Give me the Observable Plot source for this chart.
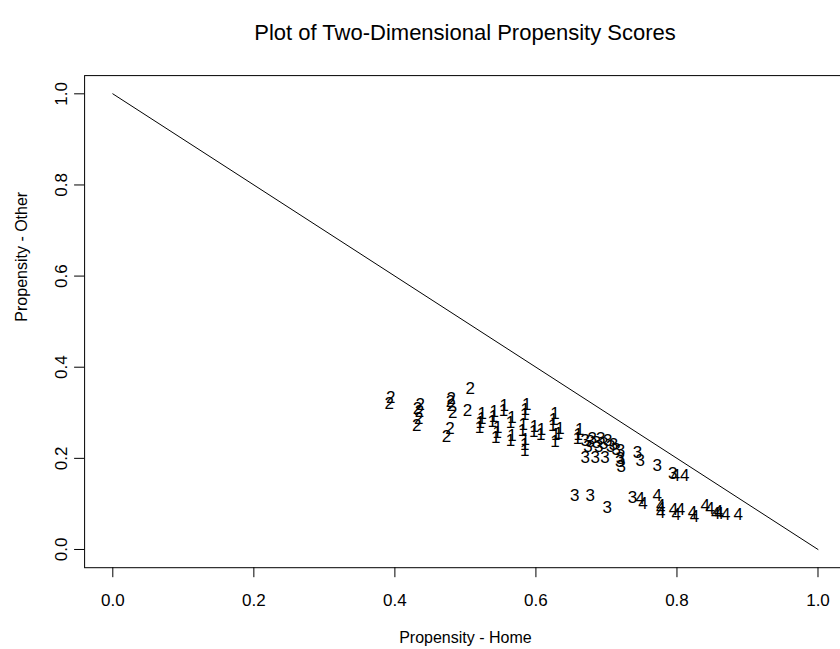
<!DOCTYPE html>
<html>
<head>
<meta charset="utf-8">
<script src="https://cdn.jsdelivr.net/npm/d3@7"></script>
<script src="https://cdn.jsdelivr.net/npm/@observablehq/plot@0.6"></script>
<style>
  html, body { margin: 0; padding: 0; background: #fff; }
  body { width: 840px; height: 649px; overflow: hidden; font-family: "Liberation Sans", Arial, Helvetica, sans-serif; }
  #title { height: 50px; box-sizing: border-box; padding-top: 20px; padding-left: 90px; text-align: center; font-size: 22px; line-height: 26px; color: #000; }
  svg { display: block; overflow: hidden; }
</style>
</head>
<body>
<div id="title">Plot of Two-Dimensional Propensity Scores</div>
<div id="chart"></div>
<script>
// Group labels ("1".."4") and the two propensity coordinates
const g1Home  = [0.524,0.523,0.521,0.520,0.541,0.540,0.538,0.546,0.545,0.543,0.555,0.554,0.566,0.564,0.566,0.564,0.587,0.585,0.584,0.582,0.581,0.585,0.584,0.584,0.598,0.597,0.608,0.607,0.627,0.625,0.624,0.628,0.627,0.634,0.632,0.662,0.660,0.659];
const g1Other = [0.298,0.287,0.279,0.268,0.303,0.292,0.281,0.268,0.257,0.246,0.316,0.305,0.290,0.279,0.250,0.239,0.318,0.307,0.296,0.274,0.261,0.241,0.230,0.217,0.270,0.259,0.263,0.252,0.298,0.285,0.272,0.252,0.237,0.266,0.255,0.263,0.252,0.244];

const g2Home  = [0.394,0.392,0.436,0.432,0.435,0.434,0.431,0.473,0.478,0.480,0.479,0.480,0.482,0.507,0.503];
const g2Other = [0.334,0.320,0.318,0.310,0.303,0.287,0.272,0.248,0.266,0.331,0.325,0.316,0.301,0.353,0.305];

const g3Home  = [0.670,0.680,0.692,0.702,0.674,0.689,0.710,0.677,0.686,0.696,0.706,0.714,0.670,0.684,0.698,0.720,0.720,0.719,0.721,0.744,0.748,0.772,0.794,0.655,0.677,0.701,0.737];
const g3Other = [0.239,0.244,0.244,0.239,0.226,0.226,0.230,0.237,0.235,0.233,0.226,0.219,0.202,0.202,0.202,0.217,0.200,0.193,0.182,0.213,0.195,0.184,0.167,0.118,0.118,0.092,0.114];

const g4Home  = [0.798,0.811,0.748,0.752,0.772,0.777,0.777,0.777,0.795,0.799,0.805,0.822,0.825,0.840,0.847,0.855,0.859,0.860,0.869,0.887];
const g4Other = [0.162,0.162,0.112,0.101,0.118,0.097,0.090,0.081,0.088,0.077,0.088,0.081,0.072,0.097,0.090,0.079,0.083,0.079,0.077,0.077];

const groupLabels = ["1","2","3","4"];
const xTicks = [0, 0.2, 0.4, 0.6, 0.8, 1.0];
const yTicks = [0, 0.2, 0.4, 0.6, 0.8, 1.0];
const diagHome = [0, 1];
const diagOther = [1, 0];

const groups = [[g1Home, g1Other], [g2Home, g2Other], [g3Home, g3Other], [g4Home, g4Other]];
const points = [];
groups.forEach(([hx, oy], gi) => hx.forEach((h, i) => points.push({home: h, other: oy[i], label: groupLabels[gi]})));
const diag = diagHome.map((h, i) => ({home: h, other: diagOther[i]}));

const W = 840, H = 599;
const mL = 84.1, mR = -5.7, mT = 25.1, mB = 81.8;

const chart = Plot.plot({
  width: W,
  height: H,
  marginLeft: mL,
  marginRight: mR,
  marginTop: mT,
  marginBottom: mB,
  style: {fontFamily: '"Liberation Sans", Arial, Helvetica, sans-serif', background: "#fff", color: "#000", overflow: "hidden"},
  x: {domain: [-0.04, 1.04], range: [mL, W - mR]},
  y: {domain: [-0.04, 1.04], range: [H - mB, mT]},
  marks: [
    Plot.frame({stroke: "#000", strokeWidth: 1}),
    Plot.axisX({ticks: xTicks, tickSize: 10, tickPadding: 16, tickFormat: d => d.toFixed(1), fontSize: 17, label: null, stroke: "#000"}),
    Plot.axisY({ticks: yTicks, tickSize: 10, tickFormat: () => "", label: null, stroke: "#000"}),
    Plot.text(yTicks, {y: d => d, text: d => d.toFixed(1), frameAnchor: "left", dx: -23, rotate: -90, fontSize: 17, fill: "#000", textAnchor: "middle", lineAnchor: "middle"}),
    Plot.text(["Propensity - Home"], {frameAnchor: "bottom", dy: 70, text: d => d, fontSize: 16, fill: "#000", lineAnchor: "middle"}),
    Plot.text(["Propensity - Other"], {frameAnchor: "left", dx: -63, rotate: -90, text: d => d, fontSize: 16, fill: "#000", lineAnchor: "middle"}),
    Plot.line(diag, {x: "home", y: "other", stroke: "#000", strokeWidth: 1}),
    Plot.text(points, {x: "home", y: "other", text: "label", fontSize: 17, fill: "#000", lineAnchor: "middle", textAnchor: "middle"})
  ]
});
document.getElementById("chart").appendChild(chart);
</script>
</body>
</html>
